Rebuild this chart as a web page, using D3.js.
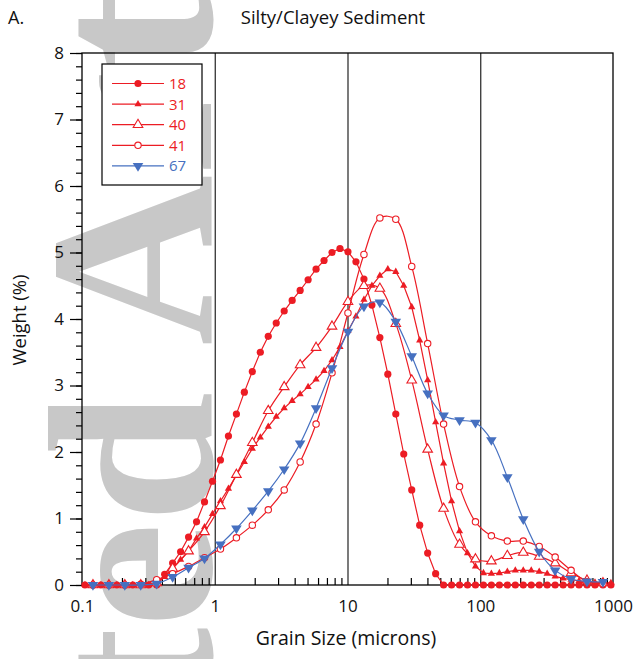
<!DOCTYPE html>
<html>
<head>
<meta charset="utf-8">
<title>Silty/Clayey Sediment</title>
<script src="https://cdn.jsdelivr.net/npm/d3@7"></script>
<style>
  body { margin: 0; background: #fff; }
  svg { display: block; font-family: "Open Sans", sans-serif; }
</style>
</head>
<body>
<script>
// grain size bins, microns (every bin, and every second bin)
var sizesFine = [0.1053, 0.1209, 0.1388, 0.1594, 0.1830, 0.2101, 0.2413, 0.2771, 0.3181, 0.3653,
  0.4194, 0.4816, 0.5530, 0.6350, 0.7291, 0.8372, 0.9616, 1.104, 1.268, 1.456,
  1.671, 1.919, 2.204, 2.530, 2.905, 3.336, 3.830, 4.398, 5.050, 5.798,
  6.658, 7.644, 8.777, 10.08, 11.58, 13.30, 15.27, 17.53, 20.13, 23.11,
  26.53, 30.47, 34.98, 40.17, 46.12, 52.95, 60.80, 69.81, 80.16, 92.04,
  105.7, 121.3, 139.3, 160.0, 183.7, 210.9, 242.2, 278.0, 319.3, 366.6,
  420.9, 483.3, 554.9, 637.1, 731.5, 840.0, 964.5];
var sizesCoarse = [0.1209, 0.1594, 0.2101, 0.2771, 0.3653, 0.4816, 0.6350, 0.8372, 1.104, 1.456,
  1.919, 2.530, 3.336, 4.398, 5.798, 7.644, 10.08, 13.30, 17.53, 23.11,
  30.47, 40.17, 52.95, 69.81, 92.04, 121.3, 160.0, 210.9, 278.0, 366.6,
  483.3, 637.1, 840.0];

// weight (%) per bin
var s18 = [0, 0, 0, 0, 0, 0, 0, 0, 0, 0,
  0.16, 0.33, 0.50, 0.72, 0.95, 1.25, 1.56, 1.88, 2.24, 2.57,
  2.90, 3.21, 3.50, 3.74, 3.94, 4.12, 4.28, 4.43, 4.59, 4.75,
  4.88, 5.00, 5.06, 5.01, 4.86, 4.60, 4.21, 3.72, 3.17, 2.57,
  1.97, 1.43, 0.90, 0.48, 0.17, 0, 0, 0, 0, 0,
  0, 0, 0, 0, 0, 0, 0, 0, 0, 0,
  0, 0, 0, 0, 0, 0, 0];
var s31 = [0, 0, 0, 0, 0, 0, 0, 0, 0, 0.03,
  0.12, 0.25, 0.38, 0.51, 0.70, 0.87, 1.07, 1.26, 1.45, 1.65,
  1.85, 2.05, 2.22, 2.38, 2.53, 2.66, 2.77, 2.87, 2.98, 3.09,
  3.22, 3.38, 3.58, 3.82, 4.04, 4.29, 4.50, 4.65, 4.75, 4.71,
  4.50, 4.18, 3.68, 3.08, 2.45, 1.83, 1.26, 0.81, 0.48, 0.28,
  0.18, 0.17, 0.18, 0.20, 0.22, 0.22, 0.22, 0.20, 0.17, 0.13,
  0.10, 0.08, 0.06, 0.05, 0.04, 0.03, 0.03];
var s40 = [0, 0, 0, 0, 0.03, 0.25, 0.51, 0.80, 1.19, 1.66,
  2.14, 2.62, 2.98, 3.31, 3.57, 3.89, 4.26, 4.50, 4.46, 3.93,
  3.08, 2.04, 1.15, 0.61, 0.39, 0.36, 0.44, 0.49, 0.43, 0.33,
  0.18, 0.07, 0.03];
var s41 = [0, 0, 0, 0.01, 0.08, 0.17, 0.28, 0.41, 0.54, 0.71,
  0.90, 1.13, 1.43, 1.85, 2.42, 3.19, 4.09, 4.97, 5.52, 5.50,
  4.79, 3.63, 2.42, 1.48, 0.95, 0.74, 0.66, 0.66, 0.58, 0.42,
  0.22, 0.05, 0.02];
var s67 = [0, 0, 0, 0, 0.02, 0.12, 0.26, 0.40, 0.61, 0.85,
  1.12, 1.41, 1.74, 2.13, 2.66, 3.26, 3.81, 4.19, 4.25, 3.96,
  3.44, 2.88, 2.55, 2.48, 2.44, 2.18, 1.62, 0.99, 0.50, 0.22,
  0.09, 0.055, 0.045];

var seriesNames = ['18', '31', '40', '41', '67'];
var xTicks = [0.1, 1, 10, 100, 1000];
var yTicks = [0, 1, 2, 3, 4, 5, 6, 7, 8];

var red = '#ec1c24', blue = '#4670c0';

var svg = d3.select('body').append('svg').attr('width', 633).attr('height', 659);

// watermark behind everything
svg.append('text')
  .attr('transform', 'translate(211,1322) rotate(-90)')
  .attr('font-family', '"Liberation Serif", serif')
  .attr('font-weight', 'bold')
  .attr('font-size', 236)
  .attr('fill', '#c8c8c8')
  .text('Accepted Article');

var x = d3.scaleLog().domain([0.1, 1000]).range([82, 613]);
var y = d3.scaleLinear().domain([0, 8]).range([585, 53]);

// vertical grid at the decades
svg.append('g').attr('transform', 'translate(0,585)')
  .call(d3.axisBottom(x).tickValues([1, 10, 100]).tickSize(-532).tickFormat(''))
  .call(function (g) { g.select('.domain').remove(); })
  .selectAll('line').attr('stroke', '#222').attr('stroke-width', 1.2);

// x minor ticks, pointing inside
var minorX = [];
[0.1, 1, 10, 100].forEach(function (dec) {
  for (var m = 2; m <= 9; m++) minorX.push(dec * m);
});
svg.append('g').attr('transform', 'translate(0,585)')
  .call(d3.axisBottom(x).tickValues(minorX).tickSize(-7).tickFormat(''))
  .call(function (g) { g.select('.domain').remove(); })
  .selectAll('line').attr('stroke', '#000').attr('stroke-width', 1.2);

var gx = svg.append('g').attr('transform', 'translate(0,585)')
  .call(d3.axisBottom(x).tickValues(xTicks).tickSize(0).tickPadding(15)
    .tickFormat(function (d) { return String(d); }));
gx.select('.domain').remove();
gx.selectAll('text').attr('font-size', 17).attr('fill', '#111')
  .attr('font-family', '"Open Sans", sans-serif');

// y axis: major and minor ticks outside
var minorY = d3.range(0, 8.001, 0.2);
svg.append('g').attr('transform', 'translate(82,0)')
  .call(d3.axisLeft(y).tickValues(minorY).tickSize(6).tickFormat(''))
  .call(function (g) { g.select('.domain').remove(); })
  .selectAll('line').attr('stroke', '#000').attr('stroke-width', 1.2);
var gy = svg.append('g').attr('transform', 'translate(82,0)')
  .call(d3.axisLeft(y).tickValues(yTicks).tickSize(12).tickPadding(6));
gy.select('.domain').remove();
gy.selectAll('line').attr('stroke', '#000').attr('stroke-width', 1.2);
gy.selectAll('text').attr('font-size', 17).attr('fill', '#111')
  .attr('font-family', '"Open Sans", sans-serif');

svg.append('rect')
  .attr('x', 82).attr('y', 53).attr('width', 531).attr('height', 532)
  .attr('fill', 'none').attr('stroke', '#000').attr('stroke-width', 1.3);

// marker shapes
var shapes = {
  dot: 'M3.6,0A3.6,3.6 0 1,1 -3.6,0A3.6,3.6 0 1,1 3.6,0Z',
  tri: 'M0,-4.2L3.6,2.1L-3.6,2.1Z',
  openTri: 'M0,-5.4L4.8,2.8L-4.8,2.8Z',
  ring: 'M3.2,0A3.2,3.2 0 1,1 -3.2,0A3.2,3.2 0 1,1 3.2,0Z',
  down: 'M0,5.8L5.3,-2.9L-5.3,-2.9Z'
};

var series = [
  { name: seriesNames[0], sizes: sizesFine, values: s18, color: red, shape: 'dot', open: false, curve: d3.curveLinear },
  { name: seriesNames[1], sizes: sizesFine, values: s31, color: red, shape: 'tri', open: false, curve: d3.curveLinear },
  { name: seriesNames[2], sizes: sizesCoarse, values: s40, color: red, shape: 'openTri', open: true, curve: d3.curveCatmullRom.alpha(0.5) },
  { name: seriesNames[3], sizes: sizesCoarse, values: s41, color: red, shape: 'ring', open: true, curve: d3.curveCatmullRom.alpha(0.5) },
  { name: seriesNames[4], sizes: sizesCoarse, values: s67, color: blue, shape: 'down', open: false, curve: d3.curveCatmullRom.alpha(0.5) }
];

function styleMarker(sel, s) {
  sel.attr('d', shapes[s.shape])
    .attr('fill', s.open ? '#fff' : s.color)
    .attr('stroke', s.open ? s.color : 'none')
    .attr('stroke-width', s.open ? 1.1 : 0);
}

series.forEach(function (s) {
  var pts = s.sizes.map(function (d, i) { return [d, s.values[i]]; });
  var line = d3.line()
    .x(function (p) { return x(p[0]); })
    .y(function (p) { return y(p[1]); })
    .curve(s.curve);
  var g = svg.append('g');
  g.append('path').attr('d', line(pts))
    .attr('fill', 'none').attr('stroke', s.color).attr('stroke-width', 1.2);
  g.selectAll('path.m').data(pts).enter().append('path')
    .attr('class', 'm')
    .attr('transform', function (p) { return 'translate(' + x(p[0]) + ',' + y(p[1]) + ')'; })
    .call(styleMarker, s);
});

// legend
var leg = svg.append('g');
leg.append('rect').attr('x', 102).attr('y', 64).attr('width', 100).attr('height', 121)
  .attr('fill', '#fff').attr('stroke', '#000').attr('stroke-width', 1.2);
var rows = leg.selectAll('g.row').data(series).enter().append('g')
  .attr('class', 'row')
  .attr('transform', function (d, i) { return 'translate(0,' + (83.5 + i * 20.6) + ')'; });
rows.append('line').attr('x1', 112).attr('x2', 164).attr('y1', 0).attr('y2', 0)
  .attr('stroke', function (d) { return d.color; }).attr('stroke-width', 1.2);
rows.append('path').attr('transform', 'translate(138,0)')
  .each(function (d) { d3.select(this).call(styleMarker, d); });
rows.append('text').attr('x', 169).attr('dy', '0.36em')
  .attr('font-size', 15).attr('fill', function (d) { return d.color; })
  .text(function (d) { return d.name; });

// titles
svg.append('text').attr('x', 8).attr('y', 24).attr('font-size', 18).attr('fill', '#111').text('A.');
svg.append('text').attr('x', 333).attr('y', 24).attr('text-anchor', 'middle')
  .attr('font-size', 18.5).attr('fill', '#111').text('Silty/Clayey Sediment');
svg.append('text').attr('x', 346).attr('y', 645).attr('text-anchor', 'middle')
  .attr('font-size', 19.5).attr('fill', '#111').text('Grain Size (microns)');
svg.append('text').attr('transform', 'translate(26,320) rotate(-90)').attr('text-anchor', 'middle')
  .attr('font-size', 18.5).attr('fill', '#111').text('Weight (%)');
</script>
</body>
</html>
